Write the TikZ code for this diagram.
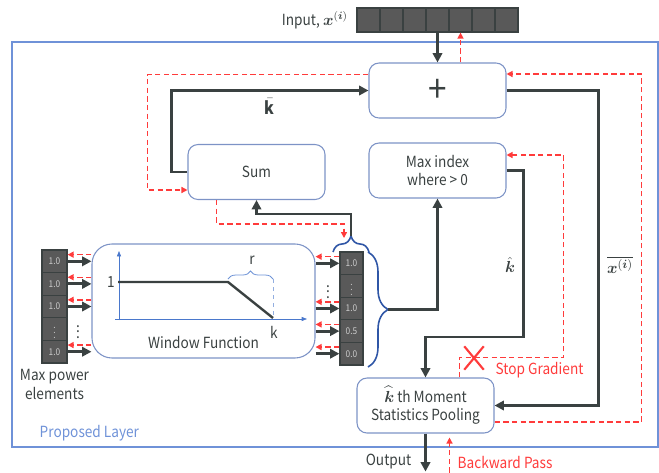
\documentclass[tikz,border=0pt]{standalone}
\usepackage{fontspec}
\setmainfont{Noto Sans CJK KR}[FakeStretch=0.89]
\usepackage{amsmath,bm}
\usetikzlibrary{arrows.meta,calc,positioning,decorations.pathreplacing,shapes.misc}

\definecolor{ink}{HTML}{3A4141}
\definecolor{cellfill}{HTML}{595959}
\definecolor{gradred}{HTML}{FF3B3B}
\definecolor{boxline}{HTML}{7D93C6}
\definecolor{layerblue}{HTML}{6F92D8}
\definecolor{bracecol}{HTML}{2F56A6}
\definecolor{axisblue}{HTML}{4A78CC}

\tikzset{
  block/.style={draw=boxline, line width=0.8pt, rounded corners=7.5pt,
    minimum width=102.75pt, minimum height=41.25pt, align=center, inner sep=0pt},
  cell/.style={draw=ink, line width=0.9pt, fill=cellfill, inner sep=0pt,
    text=white!80!black, font=\fontsize{7}{7}\selectfont},
  fwd/.style={draw=ink, line width=2.2pt, -{Triangle[length=7pt,width=7pt]}},
  bwd/.style={draw=gradred, line width=1pt, dash pattern=on 4pt off 2.5pt,
    -{Triangle[length=4.5pt,width=4.5pt]}},
  curly/.style={draw=bracecol, line width=1.2pt, decorate, decoration={brace, amplitude=#1}},
  curly/.default=8pt,
  redtext/.style={text=gradred},
  mathlabel/.style={font=\fontsize{13}{13}\selectfont},
}

\begin{document}
\begin{tikzpicture}[x=0.75pt, y=-0.75pt,
    every node/.append style={font=\fontsize{11.5}{14}\selectfont, text=ink}]
\useasboundingbox (0,0) rectangle (659,472);

% the layer frame
\draw[layerblue, line width=1.1pt] (12,42) rectangle (658,447);
\node[text=layerblue, anchor=west] (layer) at (35,433) {Proposed Layer};

% input vector
\foreach \i in {1,...,7}
  \node[cell, minimum width=17.25pt, minimum height=18pt] (in\i) at (345.5+23*\i,20) {};
\node[left=3pt of in1] (inlabel) {Input, $\bm{x}^{(\bm{i})}$};

% blocks
\node[block] (plus) at (437.5,90.5) {\fontsize{28}{28}\selectfont +};
\node[block] (sum) at (256.5,172) {Sum};
\node[block] (maxidx) at (437.5,170.5) {Max index\\where > 0};
\node[block, minimum width=167.25pt, minimum height=85.5pt, rounded corners=15pt] (win) at (203.5,301) {};
\node[block] (pool) at (425.5,405.5) {$\widehat{\bm{k}}$ th Moment\\Statistics Pooling};
\node (wlabel) at (203.5,342) {Window Function};

% window plot
\draw[axisblue, line width=0.5pt, -{Triangle[length=4pt,width=3pt]}] (119,320) -- (119,251);
\draw[axisblue, line width=0.5pt, -{Triangle[length=4pt,width=3pt]}] (115,319) -- (307,319);
\draw[axisblue!60, dashed, line width=0.6pt] (273,279) -- (273,318);
\draw[ink, line width=1.8pt] (118,282) -- (228,282) -- (273,318);
\draw[curly=6pt, draw=axisblue!80, line width=0.6pt] (228,279) -- (273,279);
\node (rlabel) at (252,260) {r};
\node (one) at (111,282) {1};
\node (klabel) at (274,332) {k};

% max power elements
\foreach \i/\v in {1/1.0,2/1.0,3/1.0,4/$\vdots$,5/1.0}
  \node[cell, minimum width=18.75pt, minimum height=17pt] (lv\i) at (54.5,238.7+22.6*\i) {\v};
\node[below=1pt of lv5, align=center] (lvlabel) {Max power\\elements};
\node (ldots) at (78,328) {$\vdots$};

% window output vector
\foreach \i/\v in {1/1.0,2/$\vdots$,3/1.0,4/0.5,5/0.0}
  \node[cell, minimum width=17.25pt, minimum height=17pt] (rv\i) at (351.5,240.7+22.6*\i) {\v};
\node (rdots) at (328,288) {$\vdots$};

\foreach \i in {1,2,3,5}{
  \draw[fwd] (lv\i.east) -- (lv\i.east -| win.west);
  \draw[bwd] ([yshift=5pt]win.west |- lv\i.east) -- ([yshift=5pt]lv\i.east);
}
\foreach \i in {1,3,4,5}{
  \draw[fwd] (rv\i.west -| win.east) -- (rv\i.west);
  \draw[bwd] ([yshift=5pt]rv\i.west) -- ([yshift=5pt]win.east |- rv\i.west);
}

% braces
\draw[curly=12pt] (333,252) -- (369,252);
\coordinate (tb) at (351,236);
\draw[curly=15pt] (368,252) -- (368,367);
\coordinate (rb) at (388,309.5);

% forward pass
\draw[fwd] (in4.south) -- (plus.north);
\draw[fwd] (tb) -- ++(0,-22) -| (sum.south);
\draw[fwd] (sum.west) -- ++(-16,0) |- (plus.west);
\draw[fwd] (rb) -| (maxidx.south);
\draw[fwd] (maxidx.east) -- ++(17,0) -- ++(0,166.5) -| (pool.north);
\draw[fwd] (plus.east) -- ++(92,0) |- (pool.east);
\draw[fwd] (pool.south) -- ++(0,38);
\node[mathlabel] (kbar) at (270,106) {$\bar{\mathbf{k}}$};
\node[mathlabel] (khat) at (510,265) {$\hat{\bm{k}}$};
\node[mathlabel] (xbar) at (620,265) {$\overline{\bm{x}^{(\bm{i})}}$};
\node[anchor=east] (outlabel) at (416,462) {Output};

% backward pass
\draw[bwd] (plus.north -| in5.south) -- (in5.south);
\draw[bwd] ($(sum.south)+(-40,0)$) -- ++(0,24) -| ($(tb)+(-7,2)$);
\draw[bwd] ($(plus.west)+(0,-16)$) -- ++(-221,0) |- ($(sum.west)+(0,18)$);
\draw[bwd] ($(pool.north)+(34,0)$) -- ++(0,-20) -- ++(104,0) |- ($(maxidx.east)+(0,-15.5)$);
\draw[bwd] ($(pool.east)+(0,16.5)$) -- ++(147,0) |- ($(plus.east)+(0,-16.5)$);
\draw[bwd] ($(pool.south)+(24,39)$) -- ++(0,-35);
\node[cross out, draw=gradred, line width=1.6pt, minimum width=13pt, minimum height=16pt, inner sep=0pt] (stop) at (474,358) {};
\node[redtext, anchor=west] (stoplabel) at (491,370) {Stop Gradient};
\node[redtext, anchor=west] (backlabel) at (453,462) {Backward Pass};
\end{tikzpicture}
\end{document}
